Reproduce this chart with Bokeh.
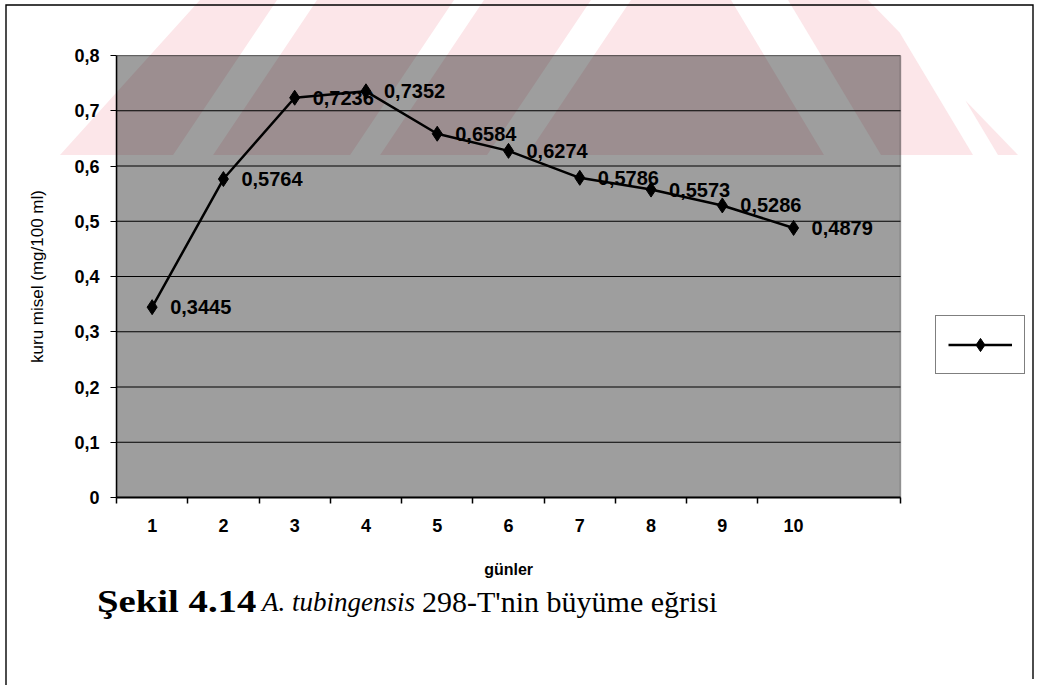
import urllib.parse
from bokeh.plotting import figure
from bokeh.models import (ColumnDataSource, FixedTicker, LabelSet, Legend,
                          LegendItem, Range1d, Div, BoxAnnotation)
from bokeh.core.properties import value
from bokeh.embed import file_html
from bokeh.resources import INLINE

# ---------------- data ----------------
days = [1, 2, 3, 4, 5, 6, 7, 8, 9, 10]
dry_mycelium = [0.3445, 0.5764, 0.7236, 0.7352, 0.6584, 0.6274, 0.5786, 0.5573, 0.5286, 0.4879]
point_labels = ["0,3445", "0,5764", "0,7236", "0,7352", "0,6584", "0,6274", "0,5786", "0,5573", "0,5286", "0,4879"]
x_tick_labels = ["1", "2", "3", "4", "5", "6", "7", "8", "9", "10"]
y_ticks = [0, 0.1, 0.2, 0.3, 0.4, 0.5, 0.6, 0.7, 0.8]
y_tick_labels = ["0", "0,1", "0,2", "0,3", "0,4", "0,5", "0,6", "0,7", "0,8"]
x_title = "günler"
y_title = "kuru misel (mg/100 ml)"
caption_parts = ["Şekil 4.14", "A. tubingensis", "298-T'nin büyüme eğrisi"]

# ---------------- layout ----------------
W, H = 1038, 685
H1 = 582                                   # height of the chart figure
H2 = H - H1                                # height of the caption strip
FL, FR, FT, FB = 116, 900, 55, 497         # plot-area edges in canvas pixels
X_LO, X_HI = 0.5, 11.5                     # category axis extent (10 days + one empty slot)
Y_LO, Y_HI = 0, 0.8

src = ColumnDataSource(dict(x=days, y=dry_mycelium, lab=point_labels))

# the frame runs to the right canvas edge so the legend (outside the plot area) is not clipped;
# the plot area itself is the box X_LO..X_HI
x_end = X_LO + (X_HI - X_LO) * (W - FL) / (FR - FL)
p = figure(width=W, height=H1, output_backend="svg", toolbar_location=None,
           x_range=Range1d(X_LO, x_end), y_range=Range1d(Y_LO, Y_HI),
           min_border_left=FL, min_border_right=0,
           min_border_top=FT, min_border_bottom=H1 - FB)
p.background_fill_alpha = 0.0
p.border_fill_alpha = 0.0
p.outline_line_color = None

# ---- scanned-page decoration: outer box + pink watermark stripes (page background) ----
def clip(poly, a, b, c):
    out = []
    n = len(poly)
    for i in range(n):
        P, Q = poly[i], poly[(i + 1) % n]
        fp = a * P[0] + b * P[1] + c
        fq = a * Q[0] + b * Q[1] + c
        if fp >= 0:
            out.append(P)
        if (fp >= 0) != (fq >= 0):
            t = fp / (fp - fq)
            out.append((P[0] + t * (Q[0] - P[0]), P[1] + t * (Q[1] - P[1])))
    return out

def edge(x0, y0, x1, y1):
    return (-(y1 - y0), (x1 - x0), (y1 - y0) * x0 - (x1 - x0) * y0)

def svg_url(parts, w, h):
    s = f'<svg xmlns="http://www.w3.org/2000/svg" width="{w}" height="{h}">' + "".join(parts) + "</svg>"
    return "data:image/svg+xml;charset=utf-8," + urllib.parse.quote(s)

WM_TOP, WM_BOT = 0, 155
sl, sr = -0.67, 0.6
bands = [(-200, 277, sl, sl), (317, 454, sl, sl), (484, 591, sl, sl),
         (631, 731, sl, sr), (788, 880, sr, sr), (905, 1300, sr, sr)]
hh = WM_BOT - WM_TOP
top_parts = []
for (xa0, xb0, s1, s2) in bands:
    poly = [(xa0, WM_TOP), (xb0, WM_TOP), (xb0 + s2 * hh, WM_BOT), (xa0 + s1 * hh, WM_BOT)]
    poly = clip(poly, *edge(60, WM_BOT, 200, WM_TOP))
    poly = clip(poly, *edge(868, WM_TOP, 1018, WM_BOT))
    if len(poly) < 3:
        continue
    pts = " ".join(f"{q[0]:.1f},{q[1]:.1f}" for q in poly)
    top_parts.append(f'<polygon points="{pts}" fill="#fce6e9"/>')
top_parts.append(f'<polyline points="6,{H1 + 5} 6,5 1033,5 1033,{H1 + 5}" fill="none" stroke="black" stroke-width="1.4"/>')
bottom_parts = [f'<line x1="6" y1="-2" x2="6" y2="{H2 + 2}" stroke="black" stroke-width="1.4"/>',
                f'<line x1="1033" y1="-2" x2="1033" y2="{H2 - 6}" stroke="black" stroke-width="1.4"/>']

p.styles = {"background-image": f'url("{svg_url(top_parts, W, H1)}")', "background-repeat": "no-repeat",
            "background-size": f"{W}px {H1}px", "background-color": "white"}

# ---- plot area: translucent dark fill (gray, pinkish over the watermark) with black border ----
p.add_layout(BoxAnnotation(left=X_LO, right=X_HI, bottom=Y_LO, top=Y_HI, level="underlay",
                           fill_color="black", fill_alpha=0.38,
                           line_color="black", line_width=1.5, editable=False))

# horizontal grid lines limited to the plot area
p.grid.visible = False
n_t = len(y_ticks)
p.segment(x0=[X_LO] * n_t, x1=[X_HI] * n_t, y0=y_ticks, y1=y_ticks,
          line_color="black", line_width=1)

# ---------------- data glyphs ----------------
line_r = p.line("x", "y", source=src, line_color="black", line_width=2.5)
pts_r = p.scatter("x", "y", source=src, marker="diamond", size=15,
                  fill_color="black", line_color="black")

p.add_layout(LabelSet(x="x", y="y", text="lab", source=src, x_offset=18, y_offset=0,
                      text_align="left", text_baseline="middle",
                      text_font=value("Liberation Sans"), text_font_style="bold",
                      text_font_size="20px", text_color="black"))

# ---------------- axes ----------------
xa = p.xaxis[0]
xa.bounds = (X_LO, X_HI)
xa.ticker = FixedTicker(ticks=days, minor_ticks=[d - 0.5 for d in days] + [X_HI])
xa.major_label_overrides = {d: t for d, t in zip(days, x_tick_labels)}
xa.major_tick_line_color = None
xa.major_tick_out = 6
xa.major_tick_in = 0
xa.minor_tick_line_color = "black"
xa.minor_tick_out = 6
xa.minor_tick_in = 0
xa.minor_tick_line_width = 1.5
xa.axis_line_color = "black"
xa.axis_line_width = 2
xa.major_label_standoff = 15
xa.major_label_text_font = "Liberation Sans"
xa.major_label_text_font_style = "bold"
xa.major_label_text_font_size = "18px"
xa.major_label_text_color = "black"
# the axis title is centred on the whole frame (which reaches the canvas edge);
# trailing no-break spaces move its visible part back under the plot area
xa.axis_label = x_title + "\u00a0" * 31
xa.axis_label_standoff = 26
xa.axis_label_text_font = "Liberation Sans"
xa.axis_label_text_font_style = "bold"
xa.axis_label_text_font_size = "16px"
xa.axis_label_text_color = "black"

ya = p.yaxis[0]
ya.ticker = FixedTicker(ticks=y_ticks)
ya.major_label_overrides = {v: t for v, t in zip(y_ticks, y_tick_labels)}
ya.minor_tick_line_color = None
ya.major_tick_line_color = "black"
ya.major_tick_out = 6
ya.major_tick_in = 0
ya.axis_line_color = "black"
ya.axis_line_width = 1.5
ya.major_label_standoff = 11
ya.major_label_text_font = "Liberation Sans"
ya.major_label_text_font_style = "bold"
ya.major_label_text_font_size = "18px"
ya.major_label_text_color = "black"
ya.axis_label = y_title
ya.axis_label_standoff = 24
ya.axis_label_text_font = "Liberation Sans"
ya.axis_label_text_font_style = "normal"
ya.axis_label_text_font_size = "17px"
ya.axis_label_text_color = "black"

# ---------------- legend (right of the plot area) ----------------
leg = Legend(items=[LegendItem(label=" ", renderers=[line_r, pts_r])],
             location=(935 - FL, FB - 374), orientation="vertical",
             glyph_width=64, glyph_height=33, padding=12, margin=0,
             label_standoff=0, label_width=0, label_height=0, label_text_font_size="4px",
             border_line_color="black", border_line_width=1.5,
             background_fill_color="white", background_fill_alpha=1)
p.add_layout(leg)

# ---------------- caption strip (separate root below the chart) ----------------
cap_top = 602 - H1 - 17
cap_left = [97, 262, 422]
cap_css = ["font-weight:bold;font-size:31px;transform:scaleX(1.25);transform-origin:0 50%;",
           "font-style:italic;font-size:27px;",
           "font-size:30px;"]
spans = "".join(
    f'<span style="position:absolute;left:{x}px;top:{cap_top}px;line-height:34px;white-space:nowrap;{css}">{t}</span>'
    for t, x, css in zip(caption_parts, cap_left, cap_css))
caption = Div(text=f'<div style="position:relative;width:{W}px;height:{H2}px;'
                   f'font-family:\'Liberation Serif\';color:black;">{spans}</div>',
              width=W, height=H2, margin=0,
              styles={"background-image": f'url("{svg_url(bottom_parts, W, H2)}")',
                      "background-repeat": "no-repeat", "background-size": f"{W}px {H2}px",
                      "background-color": "white"})

open("out.html", "w").write(file_html([p, caption], INLINE))
